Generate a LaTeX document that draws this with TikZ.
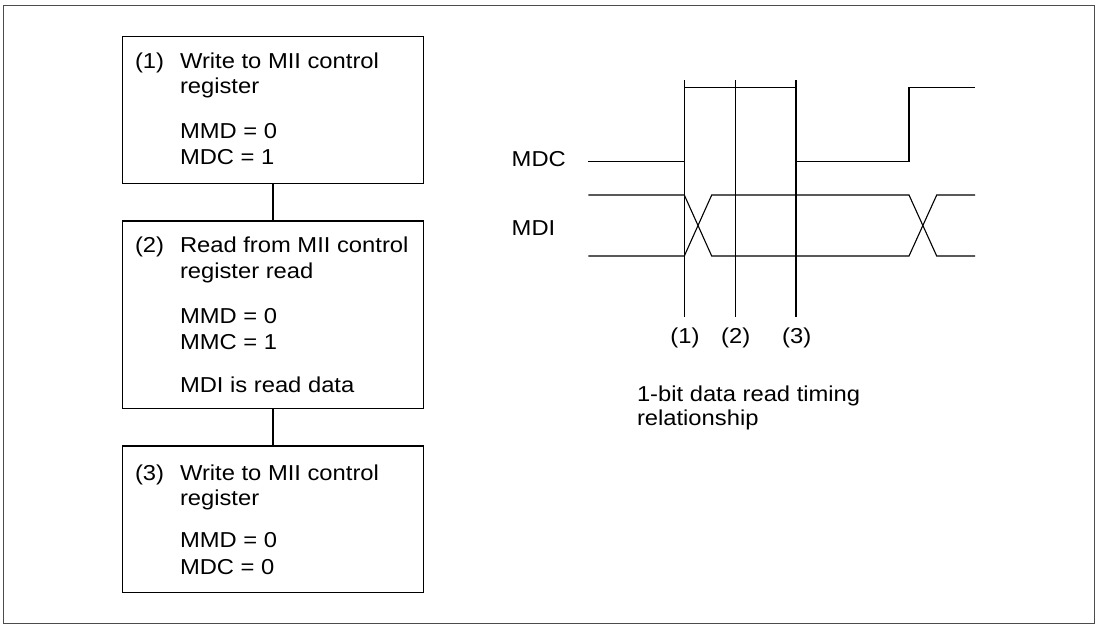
\documentclass[tikz,border=0pt]{standalone}
\usepackage{fontspec}
\setmainfont[FakeStretch=1.1]{Liberation Sans}
\begin{document}
\begin{tikzpicture}[x=1pt,y=-1pt,
  every node/.style={inner sep=0pt,outer sep=0pt},
  txt/.style={anchor=base west,font=\fontsize{21.6}{26}\selectfont},
  ctxt/.style={anchor=base,font=\fontsize{21.6}{26}\selectfont},
  stepbox/.style={draw,line width=1.1pt,minimum width=300.6pt,anchor=north west},
  wire/.style={line width=1.1pt},
  sig/.style={line width=1.1pt,line join=miter}]
\useasboundingbox (0,0) rectangle (1099,625);
\draw[black!70,line width=1pt] (3.5,5.5) rectangle (1094,623);
% boxes
\node[stepbox,minimum height=146.6pt] (b1) at (122.7,36.7) {};
\node[stepbox,minimum height=187.3pt] (b2) at (122.7,221) {};
\node[stepbox,minimum height=146.3pt] (b3) at (122.7,446) {};
\draw[wire] (b1.south) -- (b2.north);
\draw[wire] (b2.south) -- (b3.north);
% box 1 text
\node[txt] (n1) at (135,68) {(1)};
\node[txt] (t1a) at (180,68) {Write to MII control};
\node[txt] (t1b) at (180,93) {register};
\node[txt] (t1c) at (180,138) {MMD = 0};
\node[txt] (t1d) at (180,164) {MDC = 1};
% box 2 text
\node[txt] (n2) at (135,252) {(2)};
\node[txt] (t2a) at (180,252) {Read from MII control};
\node[txt] (t2b) at (180,278) {register read};
\node[txt] (t2c) at (180,323) {MMD = 0};
\node[txt] (t2d) at (180,349) {MMC = 1};
\node[txt] (t2e) at (180,392) {MDI is read data};
% box 3 text
\node[txt] (n3) at (135,480) {(3)};
\node[txt] (t3a) at (180,480) {Write to MII control};
\node[txt] (t3b) at (180,505) {register};
\node[txt] (t3c) at (180,547) {MMD = 0};
\node[txt] (t3d) at (180,574) {MDC = 0};
% timing labels
\node[txt] (mdc) at (511.7,166) {MDC};
\node[txt] (mdi) at (511.7,235) {MDI};
% vertical markers
\coordinate (v1t) at (684.3,80); \coordinate (v1b) at (684.3,316.7);
\coordinate (v2t) at (735.7,80); \coordinate (v2b) at (735.7,316.7);
\coordinate (v3t) at (796,80);   \coordinate (v3b) at (796,316.7);
\draw[wire] (v1t) -- (v1b);
\draw[wire] (v2t) -- (v2b);
\draw[wire] (v3t) -- (v3b);
\node[ctxt] (l1) at (685,343) {(1)};
\node[ctxt] (l2) at (735.7,343) {(2)};
\node[ctxt] (l3) at (796.7,343) {(3)};
% MDC waveform
\draw[sig] (588.3,161.7) -- (684.3,161.7) -- (684.3,87.3) -- (796,87.3) -- (796,161.7)
  -- (909,161.7) -- (909,87.3) -- (975,87.3);
% MDI waveform
\draw[sig] (588.3,195) -- (684.3,195) -- (711.7,256) -- (909,256) -- (936.7,195) -- (975,195);
\draw[sig] (588.3,256) -- (684.3,256) -- (711.7,195) -- (909,195) -- (936.7,256) -- (975,256);
% caption
\node[txt] (c1) at (637,401) {1-bit data read timing};
\node[txt] (c2) at (637,425) {relationship};
\end{tikzpicture}
\end{document}
